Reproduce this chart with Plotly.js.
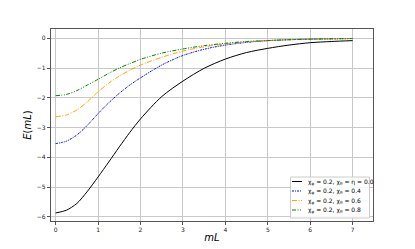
<!DOCTYPE html>
<html><head><meta charset="utf-8">
<script src="https://cdn.plot.ly/plotly-3.0.1.min.js"></script>
<style>html,body{margin:0;padding:0;background:#fff}</style>
</head><body><div id="g" style="width:415px;height:249px"></div>
<script>
const mL = [0, 0.25, 0.5, 0.75, 1, 1.25, 1.5, 1.75, 2, 2.5, 3, 3.5, 4, 4.5, 5, 5.5, 6, 6.5, 7];
const E_eta0 = [-5.87, -5.78, -5.55, -5.14, -4.66, -4.16, -3.65, -3.16, -2.71, -1.96, -1.44, -1.01, -0.70, -0.48, -0.34, -0.23, -0.15, -0.11, -0.08];
const E_04 = [-3.54, -3.46, -3.25, -2.92, -2.53, -2.17, -1.85, -1.57, -1.33, -0.90, -0.58, -0.37, -0.23, -0.14, -0.08, -0.05, -0.03, -0.02, -0.01];
const E_06 = [-2.64, -2.58, -2.41, -2.13, -1.80, -1.51, -1.27, -1.07, -0.90, -0.64, -0.43, -0.29, -0.19, -0.12, -0.08, -0.05, -0.03, -0.02, -0.01];
const E_08 = [-1.93, -1.89, -1.76, -1.57, -1.38, -1.18, -1.00, -0.85, -0.71, -0.50, -0.36, -0.25, -0.17, -0.11, -0.08, -0.05, -0.03, -0.02, -0.01];
const names = ['χ<sub>φ</sub> = 0.2, χ<sub>θ</sub> = η = 0.0','χ<sub>φ</sub> = 0.2, χ<sub>θ</sub> = 0.4','χ<sub>φ</sub> = 0.2, χ<sub>θ</sub> = 0.6','χ<sub>φ</sub> = 0.2, χ<sub>θ</sub> = 0.8'];
const series = [E_eta0, E_04, E_06, E_08];
const colors = ['#000000', '#0000ff', '#ffa500', '#008000'];
const dashes = ['solid', '2px,1px,1px,1px', '5px,1.5px,1px,1.5px', '4px,1.5px,1px,1.5px,1px,1.5px'];
const traces = series.map((ys, i) => ({
  x: mL, y: ys, type: 'scatter', mode: 'lines', name: names[i], showlegend: false,
  line: {color: colors[i], width: 1, dash: dashes[i], shape: 'spline', smoothing: 0.8}
}));
// custom compact legend (matplotlib-style)
const plotL = 51, plotR = 373, plotT = 29, plotB = 221;
const px = X => (X - plotL) / (plotR - plotL);
const py = Y => (plotB - Y) / (plotB - plotT);
const rowY = [181.5, 191, 200.5, 210];
const shapes = [{type: 'rect', xref: 'paper', yref: 'paper', x0: px(290.5), x1: px(369.5), y0: py(218), y1: py(177),
  line: {color: '#cccccc', width: 1}, fillcolor: 'rgba(255,255,255,0.85)', layer: 'above'}];
const annotations = [];
names.forEach((n, i) => {
  shapes.push({type: 'line', xref: 'paper', yref: 'paper', x0: px(292), x1: px(302), y0: py(rowY[i]), y1: py(rowY[i]),
    line: {color: colors[i], width: 1, dash: dashes[i]}, layer: 'above'});
  annotations.push({xref: 'paper', yref: 'paper', x: px(306), y: py(rowY[i]), xanchor: 'left', yanchor: 'middle',
    text: n, showarrow: false, font: {family: 'DejaVu Sans', size: 6, color: '#000'}});
});
const axBase = {
  showgrid: true, gridcolor: '#c8c8c8', gridwidth: 1,
  showline: true, linecolor: '#555', linewidth: 1.2, mirror: true,
  ticks: 'outside', ticklen: 3, tickcolor: '#555', zeroline: false,
  tickfont: {family: 'DejaVu Sans', size: 6, color: '#222'}
};
const layout = {
  width: 415, height: 249,
  margin: {l: plotL, r: 415 - plotR, t: plotT, b: 249 - plotB},
  paper_bgcolor: '#fff', plot_bgcolor: '#fff',
  showlegend: false, shapes: shapes, annotations: annotations,
  xaxis: Object.assign({}, axBase, {range: [-0.11, 7.48], tickvals: [0,1,2,3,4,5,6,7],
    title: {text: '<i>mL</i>', font: {family: 'DejaVu Sans', size: 10, color: '#000'}, standoff: 1}}),
  yaxis: Object.assign({}, axBase, {range: [-6.14, 0.31], tickvals: [0,-1,-2,-3,-4,-5,-6],
    ticktext: ['0','−1','−2','−3','−4','−5','−6'],
    title: {text: '<i>E</i>(<i>mL</i>)', font: {family: 'DejaVu Sans', size: 10, color: '#000'}, standoff: 3}})
};
Plotly.newPlot('g', traces, layout, {staticPlot: true, displayModeBar: false});
</script></body></html>
